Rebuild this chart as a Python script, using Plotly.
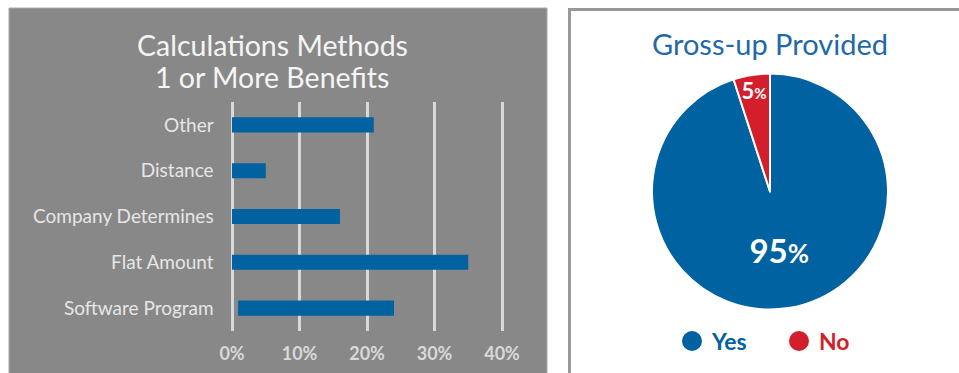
import plotly.graph_objects as go

# ---- data ----
bar_categories = ["Software Program", "Flat Amount", "Company Determines", "Distance", "Other"]
bar_ends = [24, 35, 16, 5, 21]          # percent (bar right end)
bar_starts = [0.9, 0, 0, 0, 0]          # percent (bar left end)
x_ticks = [0, 10, 20, 30, 40]
x_tick_labels = ["0%", "10%", "20%", "30%", "40%"]

pie_labels = ["Yes", "No"]
pie_values = [95, 5]

BLUE = "#0062a0"
RED = "#d21f2b"
W, H = 959, 373
FONT = "Lato"


def px(x):
    return x / W


def py(y):
    return 1 - y / H


fig = go.Figure()

fig.add_trace(go.Bar(
    y=bar_categories,
    x=[e - s for e, s in zip(bar_ends, bar_starts)],
    base=bar_starts,
    orientation="h",
    width=0.33,
    marker=dict(color=BLUE, line=dict(width=0)),
    hoverinfo="skip",
    showlegend=False,
    xaxis="x", yaxis="y",
))

fig.add_trace(go.Pie(
    labels=pie_labels,
    values=pie_values,
    sort=False,
    direction="clockwise",
    rotation=0,
    marker=dict(colors=[BLUE, RED], line=dict(color="white", width=2)),
    texttemplate=["<b>%{value}<span style='font-size:26px'>%</span></b>",
                  "<b>%{value}<span style='font-size:15px'>%</span></b>"],
    textposition="inside",
    insidetextorientation="horizontal",
    textfont=dict(family=FONT, color="white", size=[33, 22]),
    domain=dict(x=[px(652), px(888)], y=[py(310), py(73)]),
    showlegend=False,
    hoverinfo="skip",
))

# legend entries (circle markers)
for lab, col in zip(pie_labels, [BLUE, RED]):
    fig.add_trace(go.Scatter(
        x=[None], y=[None], mode="markers",
        marker=dict(color=col, size=16, symbol="circle", line=dict(color=col, width=4)),
        name=f"<span style='color:{col}'>{lab}</span>",
        xaxis="x2", yaxis="y2",
    ))

unit = 6.75
fig.update_layout(
    width=W, height=H,
    margin=dict(l=0, r=0, t=0, b=0, autoexpand=False),
    paper_bgcolor="white",
    plot_bgcolor="rgba(0,0,0,0)",
    font=dict(family=FONT),
    uniformtext=dict(mode="show", minsize=22),
    xaxis=dict(
        domain=[px(232 - 0.5 * unit), px(502 + 0.5 * unit)],
        range=[-0.5, 40.5],
        tickvals=x_ticks,
        ticktext=x_tick_labels,
        tickfont=dict(family=FONT, size=18, color="#d9d9d9", weight="bold"),
        showgrid=True, gridcolor="#d9d9d9", gridwidth=2.5,
        zeroline=False, showline=False, ticks="",
        ticklabelstandoff=10,
        fixedrange=True,
    ),
    yaxis=dict(
        domain=[py(331), py(102)],
        tickfont=dict(family=FONT, size=19, color="#e6e6e6"),
        showgrid=False, zeroline=False, showline=False, ticks="",
        ticklabelstandoff=14,
        fixedrange=True,
    ),
    xaxis2=dict(domain=[0.9, 0.95], visible=False),
    yaxis2=dict(domain=[0.9, 0.95], visible=False),
    legend=dict(
        orientation="h",
        x=px(672), y=py(341), xanchor="left", yanchor="middle",
        font=dict(family=FONT, size=23, weight="bold"),
        entrywidth=62, entrywidthmode="pixels",
        bgcolor="rgba(0,0,0,0)",
        itemclick=False, itemdoubleclick=False,
    ),
    shapes=[
        dict(type="rect", xref="paper", yref="paper",
             x0=px(9), x1=px(547), y0=-0.05, y1=py(8),
             fillcolor="#888888", line=dict(color="#a8a8a8", width=1), layer="below"),
        dict(type="rect", xref="paper", yref="paper",
             x0=px(569.5), x1=1.05, y0=-0.05, y1=py(9.5),
             fillcolor="white", line=dict(color="#999999", width=3), layer="below"),
    ],
    annotations=[
        dict(text="Calculations Methods", x=px(272), y=py(45), xref="paper", yref="paper",
             showarrow=False, xanchor="center", yanchor="middle",
             font=dict(family=FONT, size=28.5, color="#f5f5f5")),
        dict(text="1 or More Benefits", x=px(272), y=py(77), xref="paper", yref="paper",
             showarrow=False, xanchor="center", yanchor="middle",
             font=dict(family=FONT, size=28.5, color="#f5f5f5")),
        dict(text="Gross-up Provided", x=px(770), y=py(44), xref="paper", yref="paper",
             showarrow=False, xanchor="center", yanchor="middle",
             font=dict(family=FONT, size=29, color="#1f69a8")),
    ],
)

fig.write_html(
    "out.html",
    config={"displayModeBar": False},
    post_script="document.body.style.margin='0';document.body.style.overflow='hidden';",
)
